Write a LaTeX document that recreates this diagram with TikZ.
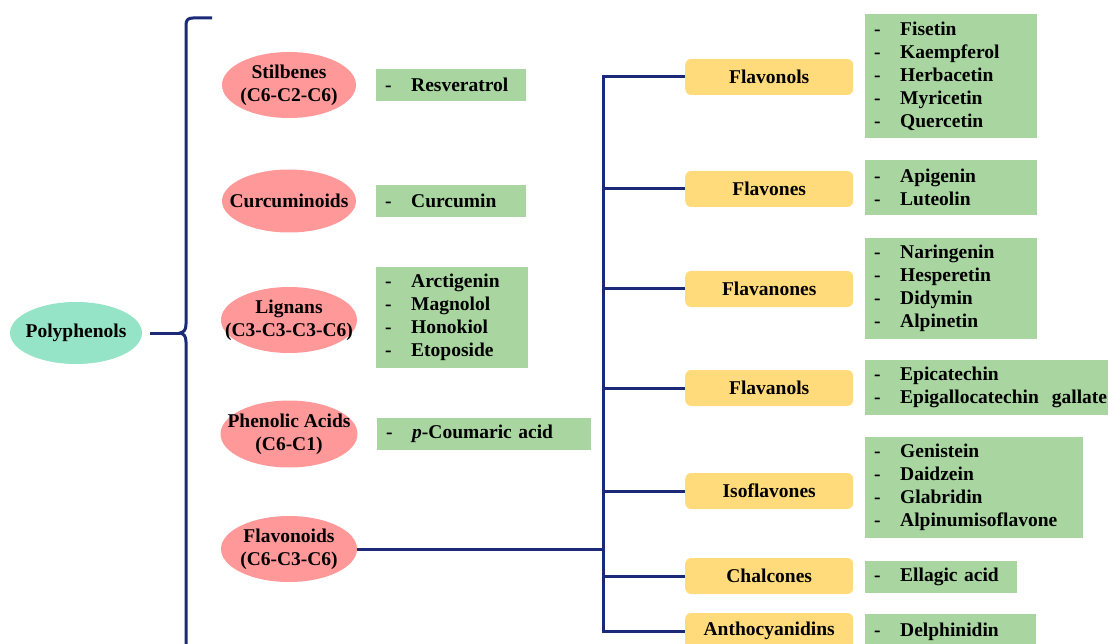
\documentclass[tikz,border=0pt]{standalone}
\usepackage{fontspec}
\setmainfont{Liberation Serif}
\usetikzlibrary{shapes.geometric}
\definecolor{mint}{HTML}{95E4C7}
\definecolor{rosy}{HTML}{FF9999}
\definecolor{sun}{HTML}{FFDB7B}
\definecolor{leaf}{HTML}{A8D5A0}
\definecolor{navy}{HTML}{1B2A78}
\newcommand\itm[1]{\makebox[26pt][l]{-}#1}
\tikzset{
  txt/.style={font=\bfseries\fontsize{19.5}{23}\selectfont, text=black},
  oval/.style={ellipse, fill=rosy, inner sep=0pt},
  ovaltext/.style={txt, align=center, inner sep=0pt},
  yel/.style={txt, rectangle, rounded corners=6pt, fill=sun, minimum width=168pt, minimum height=36pt, inner sep=0pt, anchor=west},
  lst/.style={txt, rectangle, fill=leaf, inner xsep=9pt, inner ysep=0pt, anchor=west, align=left},
  conn/.style={draw=navy, line width=3pt},
}
\begin{document}
\begin{tikzpicture}[x=1pt,y=-1pt]
\useasboundingbox (0,0) rectangle (1108,644);
\clip (0,0) rectangle (1108,644);
% root
\node[ellipse, fill=mint, minimum width=132pt, minimum height=62pt, inner sep=0pt,
  label={[txt, inner sep=0pt]center:Polyphenols}] (poly) at (76,333) {};
% classes
\node[oval, minimum width=134pt, minimum height=66pt, label={[ovaltext]center:{Stilbenes\\(C6-C2-C6)}}] (stil) at (289,85) {};
\node[oval, minimum width=134pt, minimum height=63pt, label={[ovaltext]center:{Curcuminoids}}] (curc) at (289,201) {};
\node[oval, minimum width=136pt, minimum height=66pt, label={[ovaltext]center:{Lignans\\(C3-C3-C3-C6)}}] (lign) at (289,320) {};
\node[oval, minimum width=137pt, minimum height=67pt, label={[ovaltext]center:{Phenolic Acids\\(C6-C1)}}] (phen) at (289,434) {};
\node[oval, minimum width=136pt, minimum height=66pt, label={[ovaltext]center:{Flavonoids\\(C6-C3-C6)}}] (flvd) at (289,549) {};
% left lists
\node[lst, text width=132pt, minimum height=32pt] (resv) at (376,85) {\itm{Resveratrol}};
\node[lst, text width=132pt, minimum height=32pt] (curm) at (376,201) {\itm{Curcumin}};
\node[lst, text width=134pt, minimum height=101pt] (lgl) at (376,317.5) {\itm{Arctigenin}\\\itm{Magnolol}\\\itm{Honokiol}\\\itm{Etoposide}};
\node[lst, text width=196pt, minimum height=32pt] (coum) at (377,434) {\itm{\textit{p}-Coumaric acid}};
% flavonoid subclasses
\node[yel] (fnol) at (685,77) {Flavonols};
\node[yel] (fone) at (685,189) {Flavones};
\node[yel] (fnon) at (685,289) {Flavanones};
\node[yel] (fanl) at (685,388) {Flavanols};
\node[yel] (isof) at (685,491) {Isoflavones};
\node[yel] (chal) at (685,576) {Chalcones};
\node[yel] (anth) at (685,631) {Anthocyanidins};
% right lists
\node[lst, text width=154pt, minimum height=124pt] (l1) at (865,76) {\itm{Fisetin}\\\itm{Kaempferol}\\\itm{Herbacetin}\\\itm{Myricetin}\\\itm{Quercetin}};
\node[lst, text width=154pt, minimum height=55pt] (l2) at (865,187.5) {\itm{Apigenin}\\\itm{Luteolin}};
\node[lst, text width=154pt, minimum height=101pt] (l3) at (865,288.5) {\itm{Naringenin}\\\itm{Hesperetin}\\\itm{Didymin}\\\itm{Alpinetin}};
\node[lst, text width=240pt, minimum height=55pt] (l4) at (865,387.5) {\itm{Epicatechin}\\\itm{Epigallocatechin\ \ gallate}};
\node[lst, text width=200pt, minimum height=101pt] (l5) at (865,487.5) {\itm{Genistein}\\\itm{Daidzein}\\\itm{Glabridin}\\\itm{Alpinumisoflavone}};
\node[lst, text width=134pt, minimum height=32pt] (l6) at (865,576.5) {\itm{Ellagic acid}};
\node[lst, text width=153pt, minimum height=36pt] (l7) at (865,632) {\itm{Delphinidin}};
% brace
\coordinate (cusp) at (180,333);
\coordinate (btop) at (212,18);
\coordinate (bbot) at (186,670);
\draw[conn] (btop) -- (193,18) .. controls (188,18) and (186,20) .. (186,25) -- (186,324)
  .. controls (186,330) and (184,332) .. (cusp) .. controls (184,334) and (186,336) .. (186,342) -- (bbot);
\draw[conn] ([xshift=8pt]poly.east) -- (cusp);
% tree
\coordinate (tr) at (603,0);
\draw[conn] (flvd.east) -- (flvd.east -| tr);
\draw[conn] (fnol.west) -- (fnol.west -| tr) -- (anth.west -| tr) -- (anth.west);
\foreach \n in {fone,fnon,fanl,isof,chal}
  \draw[conn] (\n.west) -- (\n.west -| tr);
\end{tikzpicture}
\end{document}
